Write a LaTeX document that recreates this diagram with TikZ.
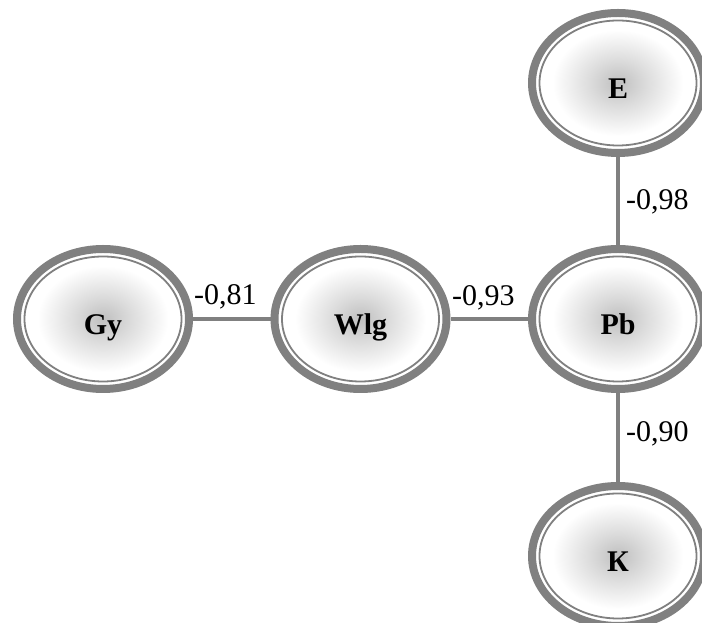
\documentclass[tikz,border=0pt]{standalone}
\usepackage{fontspec}
\setmainfont{Liberation Serif}
\usetikzlibrary{shapes.geometric}
\pgfdeclareradialshading{factorshade}{\pgfpoint{0bp}{0bp}}{%
  color(0bp)=(gray!50); color(8bp)=(gray!28); color(19bp)=(white); color(50bp)=(white)}
\begin{document}
\begin{tikzpicture}[x=1pt,y=1pt,
  factor/.style={ellipse, draw=gray, line width=8pt, minimum width=172pt, minimum height=140pt,
    inner sep=0pt, text height=32pt, text depth=0pt,
    shading=factorshade,
    font=\fontsize{30}{36}\selectfont\bfseries,
    path picture={\draw[gray, line width=1.8pt] (path picture bounding box.center)
      ellipse [x radius=78.5pt, y radius=62.5pt];}},
  link/.style={draw=gray, line width=4pt},
  coef/.style={anchor=base west, inner sep=0pt, font=\fontsize{30}{36}\selectfont}]
\useasboundingbox (0,0) rectangle (702,623);
\clip (0,0) rectangle (702,623);
\node[factor] (Gy)  at (103,304)   {Gy};
\node[factor] (Wlg) at (360.5,304) {Wlg};
\node[factor] (Pb)  at (618,304)   {Pb};
\node[factor] (E)   at (618,540)   {E};
\node[factor] (K)   at (618,67)    {К};
\draw[link] (Gy) -- (Wlg);
\draw[link] (Wlg) -- (Pb);
\draw[link] (E) -- (Pb);
\draw[link] (Pb) -- (K);
\node[coef] (c1) at (194,318) {-0,81};
\node[coef] (c2) at (452,317) {-0,93};
\node[coef] (c3) at (626,413) {-0,98};
\node[coef] (c4) at (626,181) {-0,90};
\end{tikzpicture}
\end{document}
